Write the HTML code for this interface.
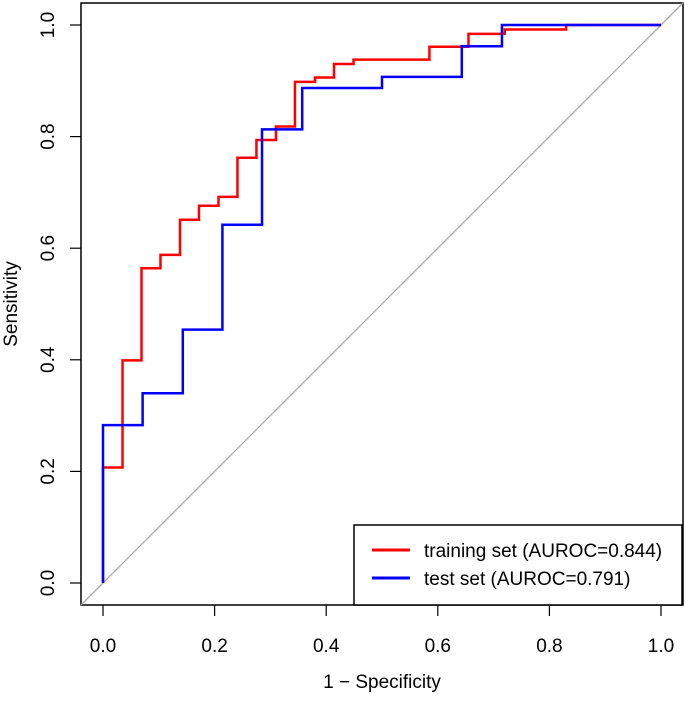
<!DOCTYPE html>
<html><head><meta charset="utf-8"><style>
body{margin:0;background:#fff}
svg text{font-family:"Liberation Sans",Arial,sans-serif;fill:#000}
</style></head><body>
<svg id="c" width="685" height="696" xmlns="http://www.w3.org/2000/svg">
<rect x="81" y="3" width="602" height="602" fill="none" stroke="#000" stroke-width="1.5"/>
<g id="g"></g>
<text x="382" y="688" font-size="19" text-anchor="middle">1 − Specificity</text>
<text transform="translate(17,304) rotate(-90)" font-size="19" text-anchor="middle">Sensitivity</text>
<g>
<rect x="354" y="525" width="328" height="80" fill="#fff" stroke="#000" stroke-width="1.5"/>
<line x1="372" y1="550" x2="410" y2="550" stroke="#f00" stroke-width="3"/>
<text x="424" y="557" font-size="19">training set (AUROC=0.844)</text>
<line x1="372" y1="578" x2="410" y2="578" stroke="#00f" stroke-width="3"/>
<text x="424" y="585" font-size="19">test set (AUROC=0.791)</text>
</g>
</svg>
<script>
const xTicks=[0,0.2,0.4,0.6,0.8,1.0];
const yTicks=[0,0.2,0.4,0.6,0.8,1.0];
const trainFpr=[0,0,0.035,0.069,0.103,0.138,0.172,0.207,0.241,0.275,0.310,0.344,0.380,0.414,0.449,0.585,0.655,0.72,0.83,1];
const trainTpr=[0,0.207,0.399,0.564,0.588,0.651,0.676,0.692,0.762,0.794,0.818,0.898,0.906,0.930,0.938,0.961,0.984,0.992,1,1];
const testFpr=[0,0.071,0.143,0.214,0.285,0.357,0.5,0.643,0.715,1];
const testTpr=[0.283,0.340,0.454,0.642,0.813,0.887,0.907,0.962,1.0,1.0];
const X=v=>103+v*558, Y=v=>583-v*558;
const g=document.getElementById('g');const NS='http://www.w3.org/2000/svg';
function mk(t,a){const e=document.createElementNS(NS,t);for(const k in a)e.setAttribute(k,a[k]);g.appendChild(e);return e;}
let d=mk('line',{x1:81,y1:605,x2:683,y2:3,stroke:'#aaa','stroke-width':1.3});


xTicks.forEach(v=>{
 const l=mk('line',{x1:X(v),y1:605,x2:X(v),y2:616,stroke:'#000','stroke-width':1.2});
 
 
 const t=mk('text',{x:X(v),y:652,'font-size':19,'text-anchor':'middle'});t.textContent=v.toFixed(1);
 
 
});
yTicks.forEach(v=>{
 const l=mk('line',{x1:70,y1:Y(v),x2:81,y2:Y(v),stroke:'#000','stroke-width':1.2});
 
 
 const t=mk('text',{transform:`translate(54,${Y(v)}) rotate(-90)`,'font-size':19,'text-anchor':'middle'});t.textContent=v.toFixed(1);
 
 
});
function step(fx,fy,start){
 let p=`M${X(start[0])},${Y(start[1])}`;let cy=start[1];
 for(let i=0;i<fx.length;i++){p+=` L${X(fx[i])},${Y(cy)} L${X(fx[i])},${Y(fy[i])}`;cy=fy[i];}
 return p;
}
const tr=mk('path',{d:step(trainFpr,trainTpr,[0,0]),fill:'none',stroke:'#f00','stroke-width':2.5});


const te=mk('path',{d:step(testFpr,testTpr,[0,0]),fill:'none',stroke:'#00f','stroke-width':2.5});


</script>
</body></html>
